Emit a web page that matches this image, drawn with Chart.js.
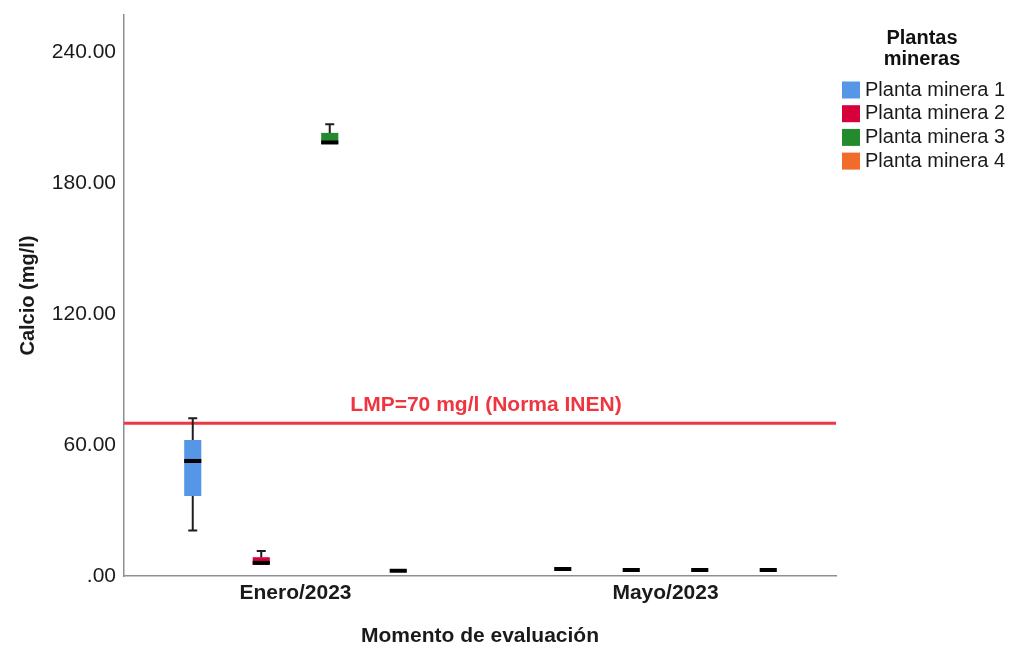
<!DOCTYPE html>
<html lang="es">
<head>
<meta charset="UTF-8">
<title>Calcio por planta minera</title>
<script src="https://cdn.jsdelivr.net/npm/chart.js"></script>
<style>
  body { margin: 0; background: #fff; }
  #wrap { width: 1012px; height: 645px; }
</style>
</head>
<body>
<div id="wrap"><canvas id="myChart"></canvas></div>
<script>
  var momentos = ['Enero/2023', 'Mayo/2023'];
  var plantas = ['Planta minera 1', 'Planta minera 2', 'Planta minera 3', 'Planta minera 4'];
  var colores = ['#5596e6', '#d6003a', '#238a2d', '#f26b2b'];

  // resumen de cinco numeros por planta: [Enero, Mayo]
  var minimos  = [[20.8, 3.2], [5.2, 2.75], [197.9, 2.75], [2.4, 2.75]];
  var cuartil1 = [[36.6, 3.2], [5.2, 2.75], [197.9, 2.75], [2.4, 2.75]];
  var medianas = [[52.7, 3.2], [6.0, 2.75], [198.6, 2.75], [2.4, 2.75]];
  var cuartil3 = [[62.3, 3.2], [8.6, 2.75], [203.0, 2.75], [2.4, 2.75]];
  var maximos  = [[72.3, 3.2], [11.4, 2.75], [207.0, 2.75], [2.4, 2.75]];

  var yTicks = [0, 60, 120, 180, 240];
  var lmp = 70;
  var lmpTexto = 'LMP=70 mg/l (Norma INEN)';
  var FUENTE = '"Liberation Sans", Arial, sans-serif';

  var datasets = plantas.map(function(nombre, i) {
    return {
      label: nombre,
      data: momentos.map(function(m, j) {
        return { x: j, y: [cuartil1[i][j], cuartil3[i][j]] };
      }),
      backgroundColor: colores[i],
      borderWidth: 0,
      categoryPercentage: 0.7405,
      barPercentage: 0.25
    };
  });

  // bigotes, medianas y linea LMP
  var cajasPlugin = {
    id: 'cajas',
    afterDatasetsDraw: function(chart) {
      var ctx = chart.ctx;
      var y = chart.scales.y;
      var area = chart.chartArea;
      ctx.save();

      var yl = y.getPixelForValue(lmp);
      ctx.strokeStyle = '#ef3540';
      ctx.lineWidth = 3;
      ctx.beginPath();
      ctx.moveTo(area.left, yl);
      ctx.lineTo(area.right, yl);
      ctx.stroke();
      ctx.fillStyle = '#ef3540';
      ctx.font = 'bold 21px ' + FUENTE;
      ctx.textAlign = 'center';
      ctx.textBaseline = 'alphabetic';
      ctx.fillText(lmpTexto, (area.left + area.right) / 2 + 6, yl - 12);

      chart.data.datasets.forEach(function(ds, i) {
        var meta = chart.getDatasetMeta(i);
        meta.data.forEach(function(bar, j) {
          var x = bar.x, w = bar.width;
          var pMin = y.getPixelForValue(minimos[i][j]);
          var pQ1 = y.getPixelForValue(cuartil1[i][j]);
          var pMed = y.getPixelForValue(medianas[i][j]);
          var pQ3 = y.getPixelForValue(cuartil3[i][j]);
          var pMax = y.getPixelForValue(maximos[i][j]);
          ctx.strokeStyle = '#1e1e1e';
          ctx.lineWidth = 2;
          if (pQ3 - pMax > 1) {
            ctx.beginPath();
            ctx.moveTo(x, pQ3); ctx.lineTo(x, pMax);
            ctx.moveTo(x - 4.5, pMax); ctx.lineTo(x + 4.5, pMax);
            ctx.stroke();
          }
          if (pMin - pQ1 > 1) {
            ctx.beginPath();
            ctx.moveTo(x, pQ1); ctx.lineTo(x, pMin);
            ctx.moveTo(x - 4.5, pMin); ctx.lineTo(x + 4.5, pMin);
            ctx.stroke();
          }
          ctx.lineWidth = 4;
          ctx.strokeStyle = '#000';
          ctx.beginPath();
          ctx.moveTo(x - w / 2, pMed); ctx.lineTo(x + w / 2, pMed);
          ctx.stroke();
        });
      });
      ctx.restore();
    }
  };

  var leyendaPlugin = {
    id: 'leyenda',
    afterDraw: function(chart) {
      var ctx = chart.ctx;
      ctx.save();
      ctx.fillStyle = '#111';
      ctx.font = 'bold 20px ' + FUENTE;
      ctx.textAlign = 'center';
      ctx.textBaseline = 'alphabetic';
      ctx.fillText('Plantas', 922, 44);
      ctx.fillText('mineras', 922, 65);
      ctx.font = '20px ' + FUENTE;
      ctx.textAlign = 'left';
      ctx.textBaseline = 'middle';
      plantas.forEach(function(nombre, i) {
        var cy = 90 + i * 23.7;
        ctx.fillStyle = colores[i];
        ctx.fillRect(842, cy - 8.5, 18, 17);
        ctx.fillStyle = '#1a1a1a';
        ctx.fillText(nombre, 865, cy);
      });
      ctx.restore();
    }
  };

  var ctx = document.getElementById('myChart').getContext('2d');
  var chart = new Chart(ctx, {
    type: 'bar',
    data: { datasets: datasets },
    options: {
      responsive: true,
      maintainAspectRatio: false,
      animation: false,
      layout: { padding: { top: 15, right: 176, left: 0, bottom: 0 } },
      plugins: {
        legend: { display: false },
        tooltip: { enabled: false }
      },
      scales: {
        x: {
          type: 'linear',
          offset: false,
          min: -0.4635,
          max: 1.4608,
          afterBuildTicks: function(s) { s.ticks = momentos.map(function(m, j) { return { value: j }; }); },
          afterFit: function(s) { s.height = 69; s.paddingLeft = 0; s.paddingRight = 0; },
          grid: { display: false, drawTicks: false },
          border: { display: true, color: '#8f8f8f', width: 1.5 },
          ticks: {
            autoSkip: false,
            maxRotation: 0,
            padding: 5,
            color: '#1a1a1a',
            font: { family: FUENTE, size: 21, weight: 'bold' },
            callback: function(v) { return momentos[v]; }
          },
          title: {
            display: true,
            text: 'Momento de evaluación',
            color: '#1a1a1a',
            padding: 0,
            font: { family: FUENTE, size: 21, weight: 'bold', lineHeight: 0.8 }
          }
        },
        y: {
          min: 0,
          max: 257,
          afterBuildTicks: function(s) { s.ticks = yTicks.map(function(v) { return { value: v }; }); },
          afterFit: function(s) { s.width = 124; s.paddingTop = 0; s.paddingBottom = 0; },
          grid: { display: false, drawTicks: false },
          border: { display: true, color: '#8f8f8f', width: 1.5 },
          ticks: {
            padding: 8,
            color: '#1a1a1a',
            font: { family: FUENTE, size: 21 },
            callback: function(v) { return v === 0 ? '.00' : v.toFixed(2); }
          },
          title: {
            display: true,
            text: 'Calcio (mg/l)',
            color: '#1a1a1a',
            padding: { top: 16, bottom: 0 },
            font: { family: FUENTE, size: 20, weight: 'bold' }
          }
        }
      }
    },
    plugins: [cajasPlugin, leyendaPlugin]
  });
</script>
</body>
</html>
